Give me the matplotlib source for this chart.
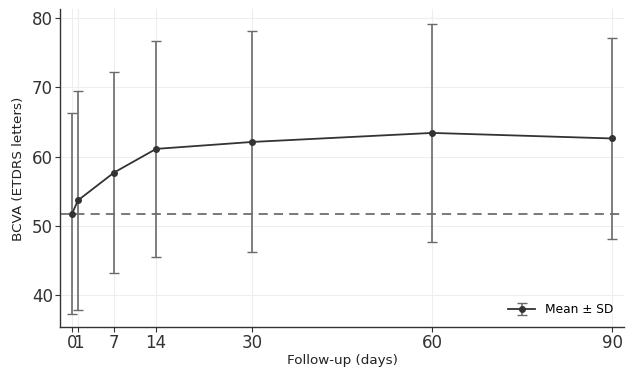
import matplotlib
matplotlib.use("Agg")
import matplotlib.pyplot as plt

# Follow-up visits and BCVA values
days = [0, 1, 7, 14, 30, 60, 90]
bcva_mean = [51.8, 53.7, 57.7, 61.1, 62.1, 63.4, 62.6]
bcva_sd = [14.4, 15.8, 14.4, 15.6, 15.9, 15.7, 14.5]
baseline = 51.8

fig, ax = plt.subplots(figsize=(6.32, 3.70), dpi=100)

ax.errorbar(days, bcva_mean, yerr=bcva_sd, fmt='-o', color='#333333', ecolor='#6a6a6a',
            elinewidth=1.2, capsize=3.5, capthick=1.0, markersize=4, linewidth=1.3,
            label='Mean ± SD', zorder=3)
ax.axhline(baseline, color='#555555', linestyle=(0, (6, 4)), linewidth=1.1, zorder=2)

ax.set_xlim(-2, 92)
ax.set_ylim(35.4, 81.2)
ax.set_xticks(days)
ax.set_yticks([40, 50, 60, 70, 80])

ax.grid(True, color='#eeeeee', linewidth=0.8, zorder=0)
ax.set_axisbelow(True)
for s in ['top', 'right']:
    ax.spines[s].set_visible(False)
for s in ['left', 'bottom']:
    ax.spines[s].set_color('#333333')
    ax.spines[s].set_linewidth(1.0)

ax.tick_params(axis='both', labelsize=12, colors='#333333', length=3.5, width=0.8, pad=1.5)
ax.set_xlabel('Follow-up (days)', fontsize=9.7, color='#222222', labelpad=1)
ax.set_ylabel('BCVA (ETDRS letters)', fontsize=9.7, color='#222222', labelpad=5)

ax.legend(loc='lower right', frameon=False, fontsize=8.8, handlelength=2.2)

fig.subplots_adjust(left=0.095, right=0.988, top=0.975, bottom=0.115)
fig.savefig('out.png', dpi=100)
